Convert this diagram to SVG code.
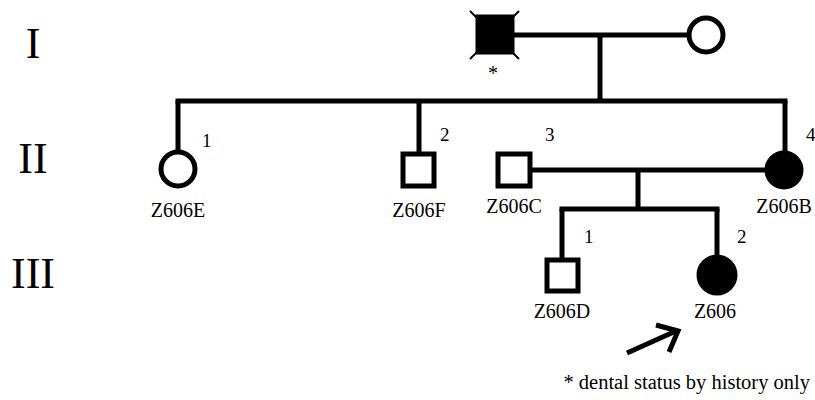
<svg xmlns="http://www.w3.org/2000/svg" width="815" height="400" viewBox="0 0 815 400">
<style>
.ln{stroke:#000;stroke-width:5;fill:none;stroke-linecap:butt}
.open{fill:#fff;stroke:#000;stroke-width:5}
.aff{fill:#000;stroke:#000;stroke-width:5}
.t{font-family:"Liberation Serif","Times New Roman",serif;fill:#000}
.gen{font-size:44px;text-anchor:middle}
.lab{font-size:20px;text-anchor:middle}
.num{font-size:19px}
</style>
<rect width="815" height="400" fill="#fff"/>
<g id="generations">
<text class="t gen" x="33" y="58">I</text>
<text class="t gen" x="33" y="173">II</text>
<text class="t gen" x="33" y="288">III</text>
</g>
<g id="connectors">
<line class="ln" x1="513" y1="35" x2="688" y2="35"/>
<line class="ln" x1="600" y1="35" x2="600" y2="101"/>
<line class="ln" x1="175.5" y1="101" x2="787.5" y2="101"/>
<line class="ln" x1="178" y1="101" x2="178" y2="151"/>
<line class="ln" x1="419" y1="101" x2="419" y2="153"/>
<line class="ln" x1="785" y1="101" x2="785" y2="151"/>
<line class="ln" x1="532" y1="170" x2="765" y2="170"/>
<line class="ln" x1="638" y1="170" x2="638" y2="209"/>
<line class="ln" x1="559.5" y1="209" x2="719.5" y2="209"/>
<line class="ln" x1="562" y1="209" x2="562" y2="259"/>
<line class="ln" x1="717" y1="209" x2="717" y2="256"/>
</g>
<g id="I-1">
<rect class="aff" x="478" y="17" width="34" height="35"/>
<line stroke="#000" stroke-width="2" x1="470" y1="11" x2="478" y2="19"/>
<line stroke="#000" stroke-width="2" x1="519" y1="11" x2="511" y2="19"/>
<line stroke="#000" stroke-width="2" x1="470" y1="59" x2="478" y2="51"/>
<line stroke="#000" stroke-width="2" x1="519" y1="59" x2="511" y2="51"/>
<text class="t" x="493" y="80" font-size="20" text-anchor="middle">*</text>
</g>
<g id="I-2">
<circle class="open" cx="706" cy="35" r="17"/>
</g>
<g id="II-1">
<circle class="open" cx="178" cy="169" r="17"/>
<text class="t num" x="202" y="147">1</text>
<text class="t lab" x="178" y="217">Z606E</text>
</g>
<g id="II-2">
<rect class="open" x="403" y="154" width="31" height="32"/>
<text class="t num" x="440" y="141">2</text>
<text class="t lab" x="419" y="217">Z606F</text>
</g>
<g id="II-3">
<rect class="open" x="498" y="154" width="32" height="32"/>
<text class="t num" x="545" y="141">3</text>
<text class="t lab" x="514" y="213">Z606C</text>
</g>
<g id="II-4">
<circle class="aff" cx="784" cy="170" r="17"/>
<text class="t num" x="806" y="141">4</text>
<text class="t lab" x="784" y="213">Z606B</text>
</g>
<g id="III-1">
<rect class="open" x="547" y="260" width="31" height="31"/>
<text class="t num" x="584" y="243">1</text>
<text class="t lab" x="562" y="318">Z606D</text>
</g>
<g id="III-2">
<circle class="aff" cx="717" cy="275" r="18"/>
<text class="t num" x="737" y="243">2</text>
<text class="t lab" x="715" y="318">Z606</text>
</g>
<g id="proband-arrow">
<line class="ln" x1="627" y1="353" x2="676" y2="331" stroke-width="6"/>
<polyline class="ln" points="656,325 678,331 669,352" stroke-width="6"/>
</g>
<g id="footnote">
<text class="t" x="810" y="389" font-size="20.5" text-anchor="end">* dental status by history only</text>
</g>
</svg>
